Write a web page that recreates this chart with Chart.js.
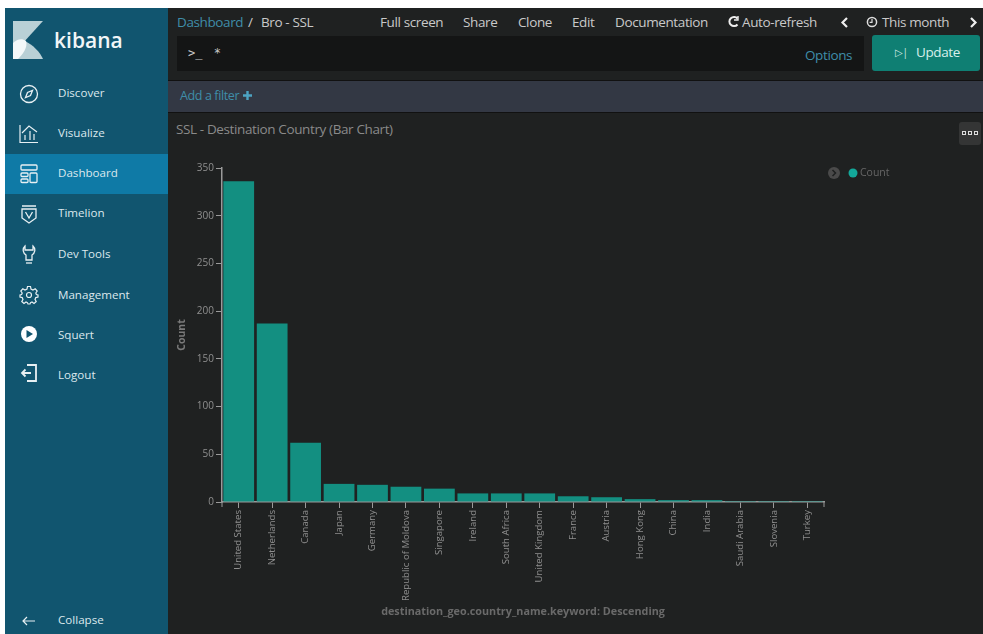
<!DOCTYPE html>
<html>
<head>
<meta charset="utf-8">
<script src="https://cdn.jsdelivr.net/npm/chart.js@4"></script>
<style>
  html, body { margin: 0; padding: 0; background: #fff; overflow: hidden; }
  body { width: 983px; height: 634px; position: relative; font-family: "Open Sans", sans-serif; }
  .abs { position: absolute; white-space: nowrap; }
  #sidebar { left: 5px; top: 8px; width: 163px; height: 626px; background: #11556f; }
  #main { left: 168px; top: 8px; width: 815px; height: 626px; background: #1f2121; }
  #active { left: 5px; top: 154px; width: 163px; height: 40px; background: #0f7aa6; }
  .nav { left: 58px; font-size: 11.6px; color: #dce8ed; line-height: 16px; }
  .icon { left: 18px; width: 22px; height: 22px; }
  .top { top: 13px; font-size: 13.5px; color: #c9c9c9; line-height: 18px; letter-spacing: -0.38px; }
  #query { left: 177px; top: 36px; width: 687px; height: 35px; background: #141515; }
  #update { left: 872px; top: 35px; width: 108px; height: 36px; background: #0f7f73; border-radius: 3px; }
  #filterbar { left: 168px; top: 80px; width: 815px; height: 33px; background: #333844; border-top: 1px solid #111; border-bottom: 1px solid #111; box-sizing: border-box; }
  #menu { left: 959px; top: 122px; width: 22px; height: 23px; background: #343535; border-radius: 3px; }
  #chart-wrap { left: 168px; top: 146px; width: 815px; height: 488px; }
</style>
</head>
<body>
<div class="abs" id="sidebar"></div>
<div class="abs" id="main"></div>
<div class="abs" id="active"></div>

<svg class="abs" style="left:13px;top:21px" width="31" height="39" viewBox="0 0 31 39">
  <polygon points="0,0 30,0 0,33" fill="#b9d0d6"/>
  <path d="M0,38 V33 L12,20 C20,24 27,31 30,38 Z" fill="#b9d0d6"/>
  <path d="M0,38 V22 C4,18 9,17 13,20 C15,26 10,33 5,38 Z" fill="#f4f8f9"/>
</svg>
<div class="abs" style="left:54px;top:24px;font-size:21px;line-height:32px;color:#f2f6f8;font-weight:600">kibana</div>

<svg class="abs icon" style="top:83px" viewBox="0 0 22 22" fill="none" stroke="#e8f0f3" stroke-width="1.3"><circle cx="11" cy="11" r="8.5"/><path d="M14.5 7.5 L12.5 12.5 L7.5 14.5 L9.5 9.5 Z"/></svg>
<svg class="abs icon" style="top:123px" viewBox="0 0 22 22" fill="none" stroke="#e8f0f3" stroke-width="1.2"><path d="M2 2 V19.5 H20"/><path d="M4 10 L11 3 L19 9"/><path d="M7 17 V12 M12 17 V8 M16 17 V11"/></svg>
<svg class="abs icon" style="top:163px" viewBox="0 0 22 22" fill="none" stroke="#e8f0f3" stroke-width="1.3"><rect x="3" y="2" width="16" height="5" rx="1"/><rect x="3" y="10" width="7" height="3.5" rx="1"/><rect x="3" y="16" width="7" height="3.5" rx="1"/><rect x="12" y="10" width="7" height="9.5" rx="1"/></svg>
<svg class="abs icon" style="top:203px" viewBox="0 0 22 22" fill="none" stroke="#e8f0f3" stroke-width="1.3"><path d="M4 3 H18 M4 6 H18 V15 L11 20 L4 15 Z"/><path d="M7.5 9 L11 15 L14.5 9"/></svg>
<svg class="abs icon" style="top:243px" viewBox="0 0 22 22" fill="none" stroke="#e8f0f3" stroke-width="1.3"><path d="M7 3 C4 6 5 10 8 12 V17 H14 V12 C17 10 18 6 15 3 V7 H7 Z"/><path d="M8 20 H14"/></svg>
<svg class="abs icon" style="top:284px" viewBox="0 0 22 22" fill="none" stroke="#e8f0f3" stroke-width="1.2"><circle cx="11" cy="11" r="2.5"/><path d="M9.5 2.5 H12.5 L13 5 L15 6 L17.2 4.8 L19.2 7 L17.8 9 L18.4 10.5 L20 11 L20 13 L17.8 13.6 L17 15.4 L18.2 17.5 L16 19.4 L14 18 L12.6 18.6 L12 20 H10 L9.4 18.6 L8 18 L6 19.4 L3.8 17.5 L5 15.4 L4.2 13.6 L2 13 V11 L3.6 10.5 L4.2 9 L2.8 7 L4.8 4.8 L7 6 L9 5 Z"/></svg>
<svg class="abs icon" style="top:324px" viewBox="0 0 22 22"><circle cx="11" cy="10" r="8" fill="#fff"/><polygon points="8.5,6 15,10 8.5,14" fill="#11556f"/></svg>
<svg class="abs icon" style="top:362px" viewBox="0 0 22 22" fill="none" stroke="#e8f0f3" stroke-width="1.8"><path d="M9 3 H18 V19 H9"/><path d="M4 11 H13 M7.5 7.5 L4 11 L7.5 14.5"/></svg>
<svg class="abs icon" style="top:610px" viewBox="0 0 22 22" fill="none" stroke="#e8f0f3" stroke-width="1.2"><path d="M5 11 H17 M9 7 L5 11 L9 15"/></svg>

<div class="abs nav" style="top:85px">Discover</div>
<div class="abs nav" style="top:125px">Visualize</div>
<div class="abs nav" style="top:165px">Dashboard</div>
<div class="abs nav" style="top:205px">Timelion</div>
<div class="abs nav" style="top:246px">Dev Tools</div>
<div class="abs nav" style="top:287px">Management</div>
<div class="abs nav" style="top:327px">Squert</div>
<div class="abs nav" style="top:367px">Logout</div>
<div class="abs nav" style="top:612px">Collapse</div>

<div class="abs top" style="left:177px;color:#3f8ea9">Dashboard</div>
<div class="abs top" style="left:248px">/</div>
<div class="abs top" style="left:261px">Bro - SSL</div>
<div class="abs top" style="left:380px">Full screen</div>
<div class="abs top" style="left:463px">Share</div>
<div class="abs top" style="left:518px">Clone</div>
<div class="abs top" style="left:572px">Edit</div>
<div class="abs top" style="left:615px">Documentation</div>
<svg class="abs" style="left:727px;top:15px" width="13" height="13" viewBox="0 0 13 13" fill="none" stroke="#eee" stroke-width="2"><path d="M10.5 3.5 A4.6 4.6 0 1 0 10.5 9.5"/><path d="M11 1 V5 H7" stroke-width="1.4"/></svg>
<div class="abs top" style="left:742px">Auto-refresh</div>
<svg class="abs" style="left:840px;top:17px" width="9" height="11" fill="none" stroke="#eee" stroke-width="2.2"><path d="M7 1 L2.5 5.5 L7 10"/></svg>
<svg class="abs" style="left:866px;top:16px" width="12" height="12" fill="none" stroke="#ddd" stroke-width="1.5"><circle cx="6" cy="6" r="4.6"/><path d="M6 3 V6.4 H3.6" stroke-width="1.2"/></svg>
<div class="abs top" style="left:882px">This month</div>
<svg class="abs" style="left:969px;top:17px" width="9" height="11" fill="none" stroke="#eee" stroke-width="2.2"><path d="M2 1 L6.5 5.5 L2 10"/></svg>

<div class="abs" id="query"></div>
<div class="abs" style="left:188px;top:44px;font-size:12px;line-height:18px;color:#c9c9c9;font-family:'DejaVu Sans Mono',monospace">&gt;_ <span style="margin-left:4px">*</span></div>
<div class="abs top" style="left:805px;top:46px;color:#3f8ea9">Options</div>
<div class="abs" id="update"></div>
<div class="abs top" style="left:895px;top:43px;font-size:10px;color:#cfe9e5">&#9655;|</div>
<div class="abs top" style="left:916px;top:43px;color:#d8efec">Update</div>

<div class="abs" id="filterbar"></div>
<div class="abs top" style="left:180px;top:87px;font-size:12.5px;color:#3f8ea9">Add a filter</div>
<svg class="abs" style="left:242px;top:90px" width="11" height="11" stroke="#4da3c2" stroke-width="2.4"><path d="M5.5 1 V10 M1 5.5 H10"/></svg>

<div class="abs top" style="left:176px;top:120px;color:#8a8a8a">SSL - Destination Country (Bar Chart)</div>
<div class="abs" id="menu"></div>
<svg class="abs" style="left:962px;top:131px" width="16" height="5" fill="none" stroke="#ddd"><rect x="0.5" y="0.5" width="3" height="3"/><rect x="6.5" y="0.5" width="3" height="3"/><rect x="12.5" y="0.5" width="3" height="3"/></svg>

<div class="abs" id="chart-wrap"><canvas id="chart" width="815" height="488"></canvas></div>

<svg class="abs" style="left:827px;top:166px" width="14" height="14"><circle cx="7" cy="7" r="6" fill="#4a4a4a"/><path d="M5.5 4 L8.5 7 L5.5 10" fill="none" stroke="#1f2121" stroke-width="1.5"/></svg>
<svg class="abs" style="left:847px;top:167px" width="12" height="12"><circle cx="6" cy="6" r="4.5" fill="#13a89a"/></svg>
<div class="abs" style="left:860px;top:165px;font-size:10.5px;line-height:15px;color:#666">Count</div>

<script>
const countries = ["United States", "Netherlands", "Canada", "Japan", "Germany", "Republic of Moldova",
  "Singapore", "Ireland", "South Africa", "United Kingdom", "France", "Austria", "Hong Kong", "China",
  "India", "Saudi Arabia", "Slovenia", "Turkey"];
const counts = [336, 187, 62, 19, 18, 16, 14, 9, 9, 9, 6, 5, 3, 2, 2, 1, 1, 1];
const axisColor = "#9a9a9a";
const textColor = "#8f8f8f";

// the two little ticks that close the x axis at both ends
const axisEnds = {
  id: "axisEnds",
  afterDraw(chart) {
    const { ctx, chartArea } = chart;
    ctx.save();
    ctx.strokeStyle = axisColor;
    ctx.lineWidth = 1;
    ctx.beginPath();
    [chartArea.left, chartArea.right].forEach((x) => {
      ctx.moveTo(x, chartArea.bottom);
      ctx.lineTo(x, chartArea.bottom + 5);
    });
    ctx.stroke();
    ctx.restore();
  },
};

new Chart(document.getElementById("chart").getContext("2d"), {
  type: "bar",
  data: {
    labels: countries,
    datasets: [{
      label: "Count",
      data: counts,
      backgroundColor: "#138f81",
      borderWidth: 0,
      barPercentage: 0.92,
      categoryPercentage: 1,
    }],
  },
  plugins: [axisEnds],
  options: {
    responsive: false,
    animation: false,
    layout: { padding: { left: 8, right: 159, top: 22, bottom: 16 } },
    plugins: { legend: { display: false }, tooltip: { enabled: false } },
    scales: {
      x: {
        grid: { offset: false, drawOnChartArea: false, tickLength: 6, color: axisColor },
        border: { color: axisColor, width: 1.5 },
        ticks: {
          autoSkip: false, minRotation: 90, maxRotation: 90, padding: 2,
          color: textColor, font: { family: "Open Sans", size: 9.6 },
        },
        title: {
          display: true,
          text: "destination_geo.country_name.keyword: Descending",
          color: "#6a6a6a",
          font: { family: "Open Sans", size: 10.8, weight: "bold" },
          padding: 0,
        },
        afterFit(scale) { scale.height = 116; },
      },
      y: {
        min: 0,
        max: 350,
        grid: { drawOnChartArea: false, tickLength: 6, color: axisColor },
        border: { color: axisColor, width: 1.5 },
        ticks: {
          stepSize: 50, padding: 2,
          color: textColor, font: { family: "Open Sans", size: 10 },
        },
        title: {
          display: true,
          text: "Count",
          color: "#7a7a7a",
          font: { family: "Open Sans", size: 10.5, weight: "bold" },
          padding: 0,
        },
        afterFit(scale) { scale.width = 46; },
      },
    },
  },
});
</script>
</body>
</html>
